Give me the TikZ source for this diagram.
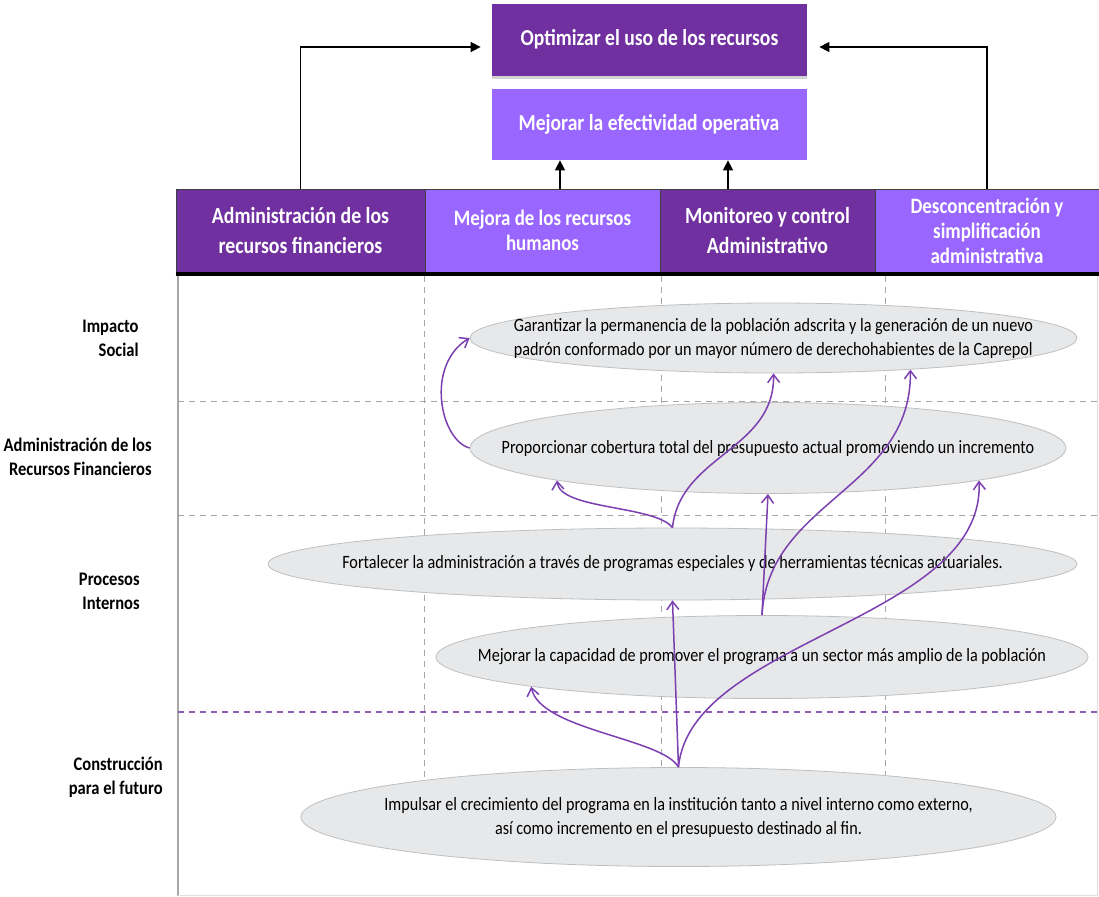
\documentclass[tikz,border=0pt]{standalone}
\usepackage{fontspec}
\setmainfont{Carlito}[FakeStretch=0.86]
\usetikzlibrary{shapes.geometric,arrows.meta,shadows}
\definecolor{darkviolet}{HTML}{7030A0}
\definecolor{lightviolet}{HTML}{9966FF}
\definecolor{ovalgray}{HTML}{E7E8EA}
\definecolor{ovalline}{HTML}{BFBFBF}
\definecolor{linkviolet}{HTML}{7B3FB0}
\definecolor{gridgray}{HTML}{A6A6A6}
\begin{document}
\begin{tikzpicture}[
      x=0.5pt, y=-0.5pt,
      goal/.style={rectangle, minimum width=157.5pt, minimum height=36pt, inner sep=0pt, text=white, font=\bfseries\fontsize{11.4}{14}\selectfont, align=center},
      head/.style={rectangle, draw=black!75, minimum height=41.5pt, inner sep=0pt, text=white, font=\bfseries\fontsize{11.5}{15}\selectfont, align=center},
      lighthead/.style={head, fill=lightviolet, font=\bfseries\fontsize{11}{12.5}\selectfont},
      oval/.style={ellipse, draw=ovalline, fill=ovalgray, inner sep=0pt},
      ovaltext/.style={align=center, inner sep=0pt, font=\fontsize{9.4}{12}\selectfont},
      row/.style={anchor=east, align=right, inner sep=0pt, font=\bfseries\fontsize{9.6}{12}\selectfont},
      link/.style={draw=linkviolet, line width=0.75pt, -{Straight Barb[length=4pt,width=6pt]}},
      feed/.style={draw=black, line width=0.8pt, -{Triangle[length=5pt,width=5pt]}},
      lane/.style={draw=gridgray, line width=0.4pt, dash pattern=on 3pt off 2.5pt},]
    \useasboundingbox (0,0) rectangle (1099,896);

    % goals
    \node[goal, fill=darkviolet, drop shadow={opacity=0.35, shadow xshift=0pt, shadow yshift=-1.5pt}] (optimizar) at (649.5,39.5) {Optimizar el uso de los recursos};
    \node[goal, fill=lightviolet, minimum height=35.5pt] (mejorar) at (649,124.5) {Mejorar la efectividad operativa};

    % perspectives
    \node[head, fill=darkviolet, minimum width=124.5pt] (fin) at (300.5,230.5) {Administración de los\\recursos financieros};
    \node[lighthead, minimum width=117.5pt] (hum) at (542.5,230.5) {Mejora de los recursos\\humanos};
    \node[head, fill=darkviolet, minimum width=107.5pt] (mon) at (767.5,230.5) {Monitoreo y control\\Administrativo};
    \node[lighthead, minimum width=112pt] (des) at (987,230.5) {Desconcentración y\\simplificación\\administrativa};
    \draw[line width=2pt] ([yshift=-1pt]fin.south west) -- ([yshift=-1pt]des.south east);

    \draw[feed, shorten >=5.5pt] (fin.north) |- ([yshift=-3.75pt]optimizar.west);
    \draw[feed, shorten >=6pt] (des.north) |- ([yshift=-3.75pt]optimizar.east);
    \coordinate (humtap) at (560,189);
    \coordinate (montap) at (728,189);
    \draw[feed] (humtap) -- (humtap |- mejorar.south);
    \draw[feed] (montap) -- (montap |- mejorar.south);

    % grid
    \draw[gridgray, line width=0.6pt] (178,276) -- (178,896);
    \draw[black!12] (1097,276) -- (1097,895) -- (178,895);
    \foreach \x/\yend in {424/780, 661/767, 885/775}
      \draw[lane] (\x,276) -- (\x,\yend);
    \foreach \y in {401,515}
      \draw[lane] (178,\y) -- (1099,\y);
    \draw[linkviolet!85, line width=0.9pt, dash pattern=on 3pt off 2.5pt] (178,712) -- (1099,712);

    % rows
    \node[row] (impacto) at (139,338) {Impacto\\Social};
    \node[row] (finanzas) at (152,457) {Administración de los\\Recursos Financieros};
    \node[row] (procesos) at (140,591) {Procesos\\Internos};
    \node[row] (futuro) at (163,777) {Construcción\\para el futuro};

    % objectives
    \node[oval, minimum width=303.5pt, minimum height=35pt, label={[ovaltext, align=left]center:{Garantizar la permanencia de la población adscrita y la generación de un nuevo\\padrón conformado por un mayor número de derechohabientes de la Caprepol}}] (garantizar) at (773.5,338) {};
    \node[oval, minimum width=298pt, minimum height=45.5pt, label={[ovaltext]center:{Proporcionar cobertura total del presupuesto actual promoviendo un incremento}}] (cobertura) at (768,448) {};
    \node[oval, minimum width=404.5pt, minimum height=36pt, label={[ovaltext]center:{Fortalecer la administración a través de programas especiales y de herramientas técnicas actuariales.}}] (fortalecer) at (672.5,564) {};
    \node[oval, minimum width=326pt, minimum height=41.5pt, label={[ovaltext]center:{Mejorar la capacidad de promover el programa a un sector más amplio de la población}}] (promover) at (762,657) {};
    \node[oval, minimum width=377.5pt, minimum height=49.5pt, label={[ovaltext]center:{Impulsar el crecimiento del programa en la institución tanto a nivel interno como externo,\\así como incremento en el presupuesto destinado al fin.}}] (impulsar) at (678.5,817) {};

    % links
    \draw[link] (cobertura.west) .. controls (440,440) and (425,365) .. (garantizar.west);
    \draw[link] (fortalecer.north) .. controls (655,505) and (560,510) .. (cobertura.south west);
    \draw[link] (fortalecer.north) .. controls (680,455) and (775,450) .. (garantizar.south);
    \draw[link] (impulsar.north) -- (fortalecer.south);
    \draw[link] (promover.north) -- (cobertura.south);
    \draw[link] (promover.north) .. controls (768,500) and (912,490) .. (garantizar.-13);
    \draw[link] (impulsar.north) .. controls (662,738) and (540,730) .. (promover.south west);
    \draw[link] (impulsar.north) .. controls (690,640) and (985,620) .. (cobertura.south east);
\end{tikzpicture}
\end{document}
